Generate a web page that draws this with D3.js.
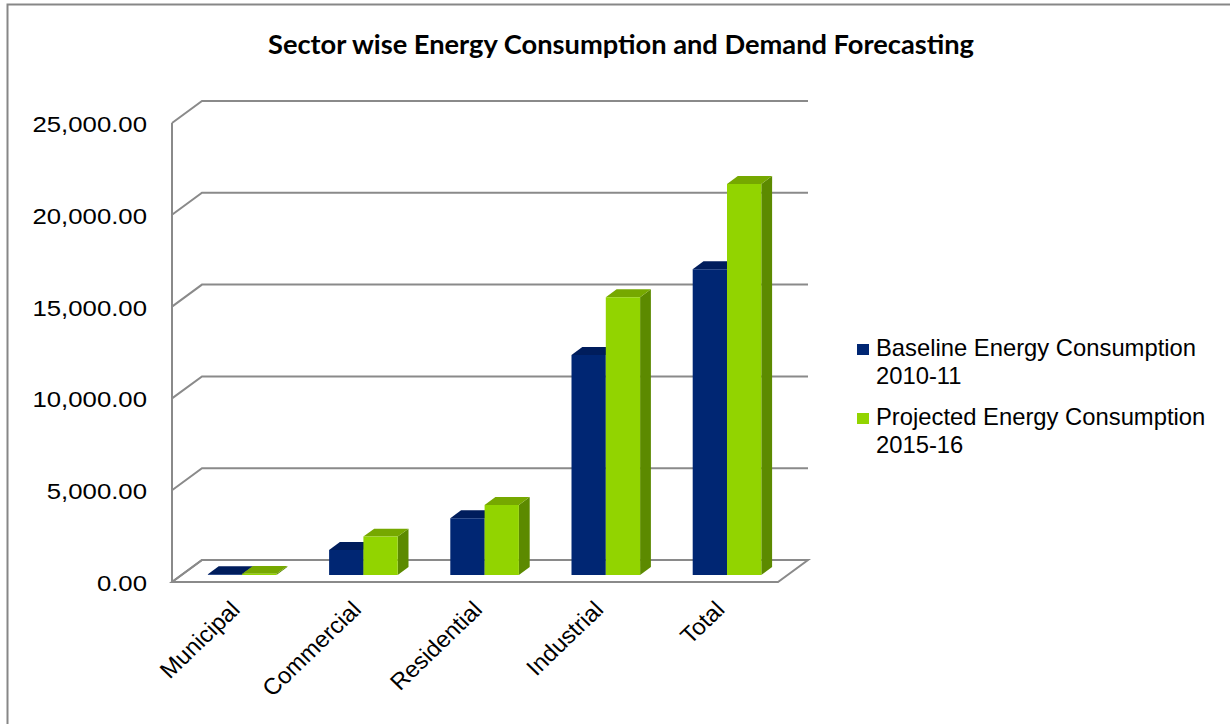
<!DOCTYPE html>
<html>
<head>
<meta charset="utf-8">
<script src="https://cdn.jsdelivr.net/npm/d3@7"></script>
<style>
  html, body { margin: 0; padding: 0; background: #fff; }
  svg { display: block; }
</style>
</head>
<body>
<svg id="chart" width="1230" height="724"></svg>
<script>
// Sector-wise energy use: baseline year vs. projected year
const categories = ["Municipal", "Commercial", "Residential", "Industrial", "Total"];
const baseline2010 = [45, 1360, 3090, 11980, 16650];
const projected2015 = [60, 2090, 3810, 15125, 21300];
const seriesNames = [
  ["Baseline Energy Consumption", "2010-11"],
  ["Projected Energy Consumption", "2015-16"]
];
const yTicks = [0, 5000, 10000, 15000, 20000, 25000];

const svg = d3.select("#chart");

// Outer frame
svg.append("rect")
  .attr("x", 7.5).attr("y", 4.5)
  .attr("width", 1400).attr("height", 900)
  .attr("fill", "#fff").attr("stroke", "#878787").attr("stroke-width", 2);

// Title
svg.append("text")
  .attr("x", 621).attr("y", 54)
  .attr("text-anchor", "middle")
  .attr("font-family", "Lato, 'Open Sans', sans-serif")
  .attr("font-weight", 700)
  .attr("font-size", 26.5)
  .attr("textLength", 706)
  .attr("lengthAdjust", "spacingAndGlyphs")
  .attr("fill", "#000")
  .text("Sector wise Energy Consumption and Demand Forecasting");

// Oblique projection: u along category axis, v value, z depth (0 front, 1 back)
const originX = 172, originY = 582;
const depthDX = 30, depthDY = -22;
const plotW = 606;
const y = d3.scaleLinear().domain([0, 25000]).range([0, 459]);
const xBand = d3.scaleBand().domain(categories).range([0, plotW]);
const P = (u, v, z) => [originX + u + z * depthDX, originY - y(v) + z * depthDY];
const poly = pts => "M" + pts.map(p => p.join(",")).join("L") + "Z";

const gridColor = "#8a8a8a";
const grid = svg.append("g").attr("fill", "none").attr("stroke", gridColor).attr("stroke-width", 2);

// Floor
grid.append("path")
  .attr("d", poly([P(0, 0, 0), P(plotW, 0, 0), P(plotW, 0, 1), P(0, 0, 1)]))
  .attr("fill", "#fff");

// Back-wall gridlines with side-wall connectors
yTicks.forEach(t => {
  grid.append("path")
    .attr("d", "M" + P(0, t, 0).join(",") + "L" + P(0, t, 1).join(",") + "L" + P(plotW, t, 1).join(","));
});
// Vertical value axis
grid.append("line")
  .attr("x1", P(0, 0, 0)[0]).attr("y1", P(0, 0, 0)[1])
  .attr("x2", P(0, 25000, 0)[0]).attr("y2", P(0, 25000, 0)[1]);

// Tick labels
const fmt = d3.format(",.2f");
svg.append("g").selectAll("text").data(yTicks).join("text")
  .attr("transform", d => `translate(147,${P(0, d, 0)[1] + 9}) scale(1.12,1)`)
  .attr("text-anchor", "end")
  .attr("font-family", "'Liberation Sans', Arial, sans-serif")
  .attr("font-size", 23)
  .attr("fill", "#000")
  .text(d => fmt(d));

// Bars
const series = [
  { values: baseline2010, front: "#002673", top: "#001d5c", side: "#001a52" },
  { values: projected2015, front: "#92d400", top: "#76a800", side: "#5c8a00" }
];
const barW = 34.3;
const z0 = 0.32, z1 = 0.68;
const bars = svg.append("g");
categories.forEach((c, i) => {
  const center = xBand(c) + xBand.bandwidth() / 2;
  series.forEach((s, k) => {
    const v = s.values[i];
    const u0 = center - barW + k * barW, u1 = u0 + barW;
    const g = bars.append("g");
    // right side face
    g.append("path").attr("d", poly([P(u1, 0, z0), P(u1, 0, z1), P(u1, v, z1), P(u1, v, z0)]))
      .attr("fill", s.side);
    // top face
    g.append("path").attr("d", poly([P(u0, v, z0), P(u1, v, z0), P(u1, v, z1), P(u0, v, z1)]))
      .attr("fill", s.top);
    // front face
    g.append("path").attr("d", poly([P(u0, 0, z0), P(u1, 0, z0), P(u1, v, z0), P(u0, v, z0)]))
      .attr("fill", s.front);
  });
});

// Category labels, rotated
svg.append("g").selectAll("text").data(categories).join("text")
  .attr("transform", d => {
    const cx = P(xBand(d) + xBand.bandwidth() / 2, 0, z0)[0];
    return `translate(${cx - 1},611) scale(1.04,1) rotate(-45)`;
  })
  .attr("text-anchor", "end")
  .attr("font-family", "'Liberation Sans', Arial, sans-serif")
  .attr("font-size", 23)
  .attr("fill", "#000")
  .text(d => d);

// Legend
const legend = svg.append("g");
const legendRows = [
  { sw: 344, lines: [356, 384], color: series[0].front },
  { sw: 413, lines: [424.5, 452.5], color: series[1].front }
];
legendRows.forEach((r, i) => {
  legend.append("rect").attr("x", 857).attr("y", r.sw).attr("width", 12).attr("height", 11)
    .attr("fill", r.color);
  seriesNames[i].forEach((t, j) => {
    legend.append("text")
      .attr("transform", `translate(876,${r.lines[j]}) scale(1.035,1)`)
      .attr("font-family", "'Liberation Sans', Arial, sans-serif")
      .attr("font-size", 23)
      .attr("fill", "#000")
      .text(t);
  });
});
</script>
</body>
</html>
